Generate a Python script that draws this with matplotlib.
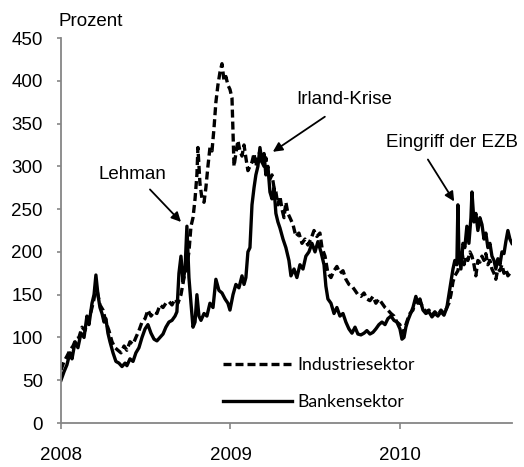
import matplotlib.pyplot as plt

plt.rcParams['font.family'] = ['Liberation Sans', 'DejaVu Sans']

# years after 2008 and values (Prozent)
bank_t = [0.000, 0.018, 0.035, 0.053, 0.065, 0.083, 0.100, 0.118, 0.136, 0.153, 0.165, 0.183, 0.195, 0.206,
          0.218, 0.230, 0.242, 0.254, 0.265, 0.277, 0.289, 0.307, 0.324, 0.342, 0.360, 0.378, 0.389, 0.407,
          0.425, 0.442, 0.460, 0.478, 0.496, 0.513, 0.531, 0.549, 0.566, 0.584, 0.602, 0.619, 0.637, 0.655,
          0.673, 0.684, 0.696, 0.708, 0.720, 0.732, 0.743, 0.755, 0.767, 0.779, 0.791, 0.802, 0.814, 0.826,
          0.844, 0.861, 0.879, 0.897, 0.914, 0.932, 0.950, 0.968, 0.985, 0.997, 1.015, 1.032, 1.050, 1.068,
          1.080, 1.091, 1.103, 1.115, 1.127, 1.139, 1.150, 1.162, 1.174, 1.186, 1.198, 1.209, 1.221, 1.233,
          1.245, 1.257, 1.268, 1.280, 1.292, 1.310, 1.327, 1.345, 1.357, 1.375, 1.392, 1.410, 1.428, 1.445,
          1.463, 1.481, 1.499, 1.516, 1.534, 1.552, 1.563, 1.575, 1.593, 1.611, 1.628, 1.646, 1.664, 1.681,
          1.699, 1.717, 1.735, 1.752, 1.770, 1.788, 1.805, 1.823, 1.841, 1.858, 1.876, 1.894, 1.912, 1.929,
          1.947, 1.965, 1.982, 2.000, 2.012, 2.024, 2.035, 2.047, 2.059, 2.077, 2.094, 2.106, 2.118, 2.136,
          2.153, 2.171, 2.189, 2.206, 2.224, 2.242, 2.260, 2.277, 2.289, 2.301, 2.313, 2.324, 2.336, 2.342,
          2.348, 2.360, 2.372, 2.383, 2.395, 2.407, 2.419, 2.425, 2.437, 2.448, 2.460, 2.472, 2.484, 2.496,
          2.507, 2.519, 2.531, 2.543, 2.555, 2.566, 2.578, 2.590, 2.602, 2.614, 2.625, 2.637, 2.649, 2.661]
bank_v = [50, 60, 68, 82, 75, 95, 88, 105, 100, 125, 115, 140, 150, 173,
          150, 135, 128, 118, 122, 105, 95, 82, 72, 70, 66, 70, 67, 75,
          72, 82, 88, 100, 110, 115, 105, 98, 96, 100, 104, 112, 118, 120,
          125, 130, 175, 195, 165, 180, 230, 170, 140, 112, 118, 150, 125, 120,
          128, 125, 140, 135, 168, 155, 152, 145, 140, 132, 150, 162, 158, 172,
          162, 170, 200, 205, 255, 275, 290, 300, 322, 305, 315, 290, 300, 270,
          262, 275, 245, 235, 228, 215, 205, 190, 172, 180, 170, 185, 180, 195,
          200, 210, 200, 212, 200, 185, 160, 145, 140, 128, 135, 125, 128, 118,
          110, 105, 112, 104, 103, 105, 108, 104, 106, 110, 115, 118, 115, 122,
          125, 120, 118, 110, 98, 100, 112, 120, 126, 135, 148, 140, 145, 132,
          128, 130, 124, 128, 125, 130, 126, 135, 150, 165, 180, 190, 185, 255,
          200, 180, 210, 205, 230, 210, 240, 270, 235, 245, 225, 240, 232, 215,
          222, 205, 210, 195, 190, 180, 192, 185, 200, 198, 212, 225, 215, 210]

ind_t = [0.000, 0.018, 0.035, 0.053, 0.071, 0.088, 0.106, 0.124, 0.142, 0.159, 0.177, 0.195, 0.206, 0.218,
         0.230, 0.248, 0.265, 0.283, 0.301, 0.319, 0.336, 0.354, 0.372, 0.389, 0.407, 0.425, 0.442, 0.460,
         0.478, 0.496, 0.513, 0.531, 0.549, 0.566, 0.584, 0.602, 0.619, 0.637, 0.655, 0.673, 0.690, 0.708,
         0.726, 0.743, 0.755, 0.767, 0.779, 0.791, 0.802, 0.808, 0.820, 0.832, 0.844, 0.855, 0.867, 0.879,
         0.891, 0.903, 0.914, 0.926, 0.938, 0.950, 0.962, 0.973, 0.985, 0.997, 1.009, 1.015, 1.021, 1.032,
         1.044, 1.056, 1.068, 1.080, 1.091, 1.103, 1.115, 1.127, 1.139, 1.150, 1.162, 1.174, 1.186, 1.198,
         1.209, 1.221, 1.233, 1.245, 1.257, 1.268, 1.280, 1.292, 1.304, 1.316, 1.327, 1.339, 1.351, 1.369,
         1.386, 1.404, 1.422, 1.440, 1.457, 1.475, 1.493, 1.510, 1.528, 1.540, 1.558, 1.575, 1.593, 1.611,
         1.628, 1.646, 1.664, 1.681, 1.699, 1.717, 1.735, 1.752, 1.770, 1.788, 1.805, 1.823, 1.841, 1.858,
         1.876, 1.894, 1.912, 1.929, 1.947, 1.965, 1.982, 2.000, 2.012, 2.024, 2.035, 2.047, 2.059, 2.077,
         2.094, 2.106, 2.118, 2.136, 2.153, 2.171, 2.189, 2.206, 2.224, 2.242, 2.260, 2.277, 2.289, 2.301,
         2.313, 2.324, 2.342, 2.354, 2.366, 2.378, 2.389, 2.401, 2.413, 2.425, 2.437, 2.448, 2.460, 2.472,
         2.484, 2.496, 2.507, 2.519, 2.531, 2.543, 2.555, 2.566, 2.578, 2.590, 2.602, 2.614, 2.625, 2.637,
         2.649, 2.661]
ind_v = [62, 72, 78, 85, 90, 98, 100, 112, 108, 122, 130, 145, 162, 150,
         138, 132, 118, 108, 95, 88, 85, 82, 90, 85, 95, 92, 100, 108,
         118, 122, 132, 125, 130, 128, 138, 135, 140, 142, 138, 145, 140, 150,
         170, 185, 200, 230, 240, 262, 290, 322, 280, 262, 258, 275, 300, 322,
         318, 345, 375, 395, 410, 420, 400, 405, 395, 390, 380, 340, 300, 315,
         330, 318, 312, 325, 310, 295, 300, 305, 315, 300, 310, 318, 305, 300,
         310, 292, 285, 290, 275, 270, 255, 265, 250, 240, 258, 245, 240, 232,
         218, 222, 210, 215, 208, 215, 225, 218, 222, 205, 195, 175, 170, 178,
         183, 175, 178, 168, 162, 160, 155, 150, 148, 152, 145, 143, 148, 140,
         145, 140, 135, 132, 128, 125, 118, 115, 105, 108, 115, 122, 128, 132,
         145, 138, 142, 135, 130, 132, 126, 130, 126, 132, 128, 135, 140, 150,
         165, 172, 178, 190, 200, 185, 195, 190, 200, 195, 185, 172, 190, 188,
         195, 190, 198, 185, 190, 180, 175, 168, 180, 178, 185, 175, 180, 172,
         175, 172]

fig = plt.figure(figsize=(5.24, 4.67), dpi=100)
ax = fig.add_axes([0.1164, 0.0942, 0.8606, 0.8244])

ax.plot([2008 + t for t in ind_t], ind_v, color='black', lw=2.4, dashes=(2.4, 1.2),
        label='Industriesektor')
ax.plot([2008 + t for t in bank_t], bank_v, color='black', lw=2.4, label='Bankensektor')

ax.set_xlim(2008, 2010.661)
ax.set_ylim(0, 450)
ax.set_yticks(range(0, 451, 50))
ax.set_xticks([2008, 2009, 2010])
ax.set_xticklabels(['2008', '2009', '2010'])

for s in ['top', 'right']:
    ax.spines[s].set_visible(False)
for s in ['left', 'bottom']:
    ax.spines[s].set_color('#868686')
    ax.spines[s].set_linewidth(1.3)
ax.tick_params(axis='y', length=3, width=1.2, color='#868686', labelsize=13.5, pad=10)
ax.tick_params(axis='x', length=4, width=1.2, color='#868686', labelsize=13.5, pad=13)

fig.text(0.111, 0.953, 'Prozent', fontsize=13.5, ha='left', va='center')

arrow = dict(arrowstyle='-|>', color='black', lw=1.3, mutation_scale=14, shrinkA=0, shrinkB=0)
ax.text(2008.42, 290, 'Lehman', fontsize=13.5, ha='center', va='center')
ax.annotate('', xy=(2008.708, 235), xytext=(2008.525, 273), arrowprops=arrow)
ax.text(2009.67, 378, 'Irland-Krise', fontsize=13.5, ha='center', va='center')
ax.annotate('', xy=(2009.25, 317), xytext=(2009.557, 358), arrowprops=arrow)
ax.text(2010.31, 328, 'Eingriff der EZB', fontsize=13.5, ha='center', va='center')
ax.annotate('', xy=(2010.32, 259), xytext=(2010.165, 308), arrowprops=arrow)

ax.legend(loc='upper left', bbox_to_anchor=(0.359, 0.172), frameon=False, borderpad=0,
          borderaxespad=0, handlelength=3.9, handletextpad=0.34, labelspacing=1.2,
          prop={'family': 'Lato', 'size': 12.7})

fig.savefig('out.png', dpi=100)
